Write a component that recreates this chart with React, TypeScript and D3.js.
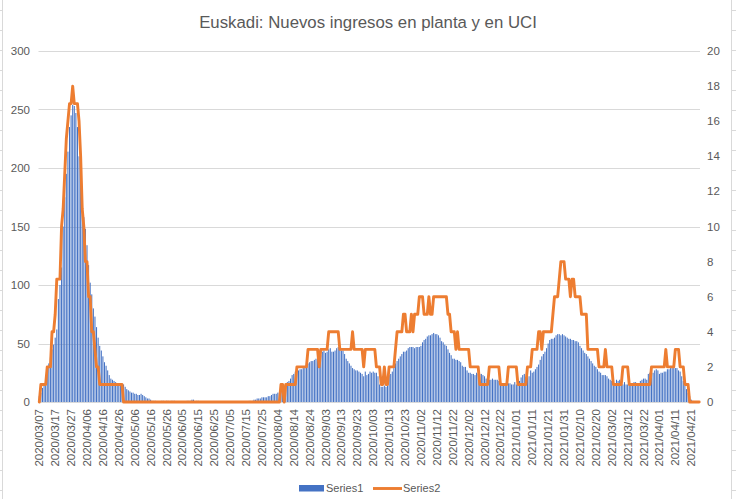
import React from "react";
import * as d3 from "d3";

const START_UTC = Date.UTC(2020, 2, 7);
const N_DAYS = 416;

const series1: number[] = [
  5, 8, 12, 14, 16, 25, 33, 38, 45, 49,
  55, 62, 88, 100, 115, 150, 175, 195, 214, 235,
  245, 254, 253, 247, 235, 210, 190, 170, 158, 148,
  134, 117, 102, 92, 80, 73, 64, 55, 48, 44,
  39, 34, 31, 27, 23, 20, 19, 18, 17, 16,
  16, 16, 15, 15, 13, 11, 10, 9, 8, 8,
  7, 7, 6, 6, 7, 6, 5, 4, 3, 3,
  2, 1, 1, 1, 0, 0, 0, 1, 1, 0,
  1, 1, 0, 1, 1, 1, 0, 0, 0, 0,
  0, 0, 0, 1, 1, 1, 2, 2, 0, 1,
  1, 0, 0, 0, 0, 0, 0, 0, 0, 0,
  0, 0, 0, 0, 0, 0, 0, 0, 0, 0,
  0, 0, 0, 0, 0, 0, 0, 0, 0, 0,
  0, 0, 1, 1, 1, 2, 2, 3, 3, 3,
  4, 4, 4, 4, 5, 5, 6, 7, 7, 7,
  8, 8, 9, 10, 13, 15, 17, 18, 20, 23,
  24, 26, 27, 27, 28, 28, 29, 29, 30, 33,
  34, 35, 35, 36, 37, 37, 30, 40, 43, 44,
  42, 43, 45, 46, 43, 43, 44, 46, 47, 45,
  44, 44, 41, 37, 35, 33, 31, 29, 28, 27,
  27, 26, 25, 24, 22, 26, 23, 24, 26, 25,
  26, 25, 25, 22, 15, 13, 13, 14, 13, 14,
  23, 24, 26, 29, 33, 35, 37, 39, 41, 43,
  43, 44, 46, 47, 47, 47, 46, 47, 47, 47,
  48, 51, 53, 54, 56, 57, 57, 58, 59, 58,
  58, 57, 55, 52, 51, 49, 48, 45, 42, 40,
  37, 37, 36, 36, 35, 34, 31, 30, 30, 27,
  25, 25, 24, 24, 23, 25, 24, 24, 24, 23,
  22, 20, 20, 19, 19, 20, 19, 19, 19, 18,
  19, 15, 14, 14, 16, 16, 16, 15, 15, 17,
  15, 16, 18, 21, 23, 24, 21, 21, 22, 27,
  25, 26, 28, 30, 32, 36, 39, 41, 43, 46,
  50, 53, 54, 54, 55, 57, 58, 58, 57, 58,
  57, 56, 55, 54, 54, 53, 53, 52, 52, 51,
  48, 46, 44, 42, 41, 39, 37, 35, 33, 31,
  30, 28, 26, 25, 23, 23, 23, 22, 20, 19,
  18, 17, 15, 19, 18, 19, 18, 15, 17, 15,
  15, 16, 15, 16, 17, 17, 16, 16, 18, 19,
  20, 20, 19, 24, 25, 25, 25, 27, 28, 27,
  24, 25, 25, 26, 26, 28, 28, 29, 29, 29,
  29, 29, 27, 26, 22, 18, 14, 11, 8, 5,
  2, 1, 0, 0, 0, 0,
];

const series2: number[] = [
  0, 1, 1, 1, 1, 2, 2, 2, 4, 4,
  5, 7, 7, 7, 10, 11, 13, 15, 16, 17,
  17, 18, 17, 17, 17, 16, 14, 11, 10, 8,
  8, 6, 6, 4, 4, 3, 2, 2, 1, 1,
  1, 1, 1, 1, 1, 1, 1, 1, 1, 1,
  1, 1, 1, 0, 0, 0, 0, 0, 0, 0,
  0, 0, 0, 0, 0, 0, 0, 0, 0, 0,
  0, 0, 0, 0, 0, 0, 0, 0, 0, 0,
  0, 0, 0, 0, 0, 0, 0, 0, 0, 0,
  0, 0, 0, 0, 0, 0, 0, 0, 0, 0,
  0, 0, 0, 0, 0, 0, 0, 0, 0, 0,
  0, 0, 0, 0, 0, 0, 0, 0, 0, 0,
  0, 0, 0, 0, 0, 0, 0, 0, 0, 0,
  0, 0, 0, 0, 0, 0, 0, 0, 0, 0,
  0, 0, 0, 0, 0, 0, 0, 0, 0, 0,
  0, 0, 1, 1, 0, 1, 1, 1, 1, 1,
  1, 1, 2, 2, 2, 2, 2, 2, 2, 3,
  3, 3, 3, 3, 3, 3, 2, 3, 3, 3,
  3, 3, 4, 4, 4, 4, 4, 4, 4, 3,
  3, 3, 3, 3, 3, 3, 3, 4, 3, 3,
  3, 3, 3, 3, 2, 3, 3, 3, 3, 3,
  3, 3, 2, 2, 2, 1, 1, 2, 1, 1,
  2, 2, 2, 2, 3, 4, 4, 4, 4, 5,
  5, 4, 4, 4, 5, 4, 5, 5, 5, 6,
  6, 6, 5, 5, 5, 6, 5, 5, 6, 6,
  6, 6, 6, 6, 6, 6, 6, 5, 5, 4,
  4, 4, 3, 4, 3, 3, 3, 3, 3, 3,
  3, 2, 2, 2, 2, 2, 2, 1, 1, 1,
  1, 1, 1, 2, 2, 2, 2, 2, 2, 2,
  1, 1, 1, 1, 1, 2, 2, 2, 2, 2,
  2, 1, 1, 1, 1, 1, 1, 2, 2, 2,
  3, 3, 3, 3, 4, 4, 3, 4, 4, 4,
  4, 4, 4, 5, 6, 6, 6, 7, 8, 8,
  8, 7, 7, 7, 6, 7, 7, 6, 6, 6,
  6, 5, 5, 5, 5, 3, 3, 3, 3, 3,
  3, 3, 2, 2, 2, 2, 3, 2, 2, 2,
  2, 1, 1, 1, 1, 1, 1, 2, 2, 2,
  2, 1, 1, 1, 1, 1, 1, 1, 1, 1,
  1, 1, 1, 1, 1, 2, 2, 2, 2, 2,
  2, 2, 2, 2, 3, 2, 2, 2, 2, 2,
  3, 3, 3, 2, 2, 2, 1, 1, 1, 0,
  0, 0, 0, 0, 0, 0,
];

const leftTicks = [0, 50, 100, 150, 200, 250, 300];
const rightTicks = [0, 2, 4, 6, 8, 10, 12, 14, 16, 18, 20];
const LABEL_EVERY = 10;

const TITLE = "Euskadi: Nuevos ingresos en planta y en UCI";
const SERIES_NAMES = ["Series1", "Series2"];

const pad = (n: number) => (n < 10 ? "0" + n : "" + n);
const categories: string[] = d3.range(N_DAYS).map((i) => {
  const d = new Date(START_UTC + i * 86400000);
  return `${d.getUTCFullYear()}/${pad(d.getUTCMonth() + 1)}/${pad(d.getUTCDate())}`;
});

const W = 736;
const H = 499;
const PL = 38.5;
const PR = 700;
const PT = 51;
const PB = 402;

const FONT = "'Liberation Sans', Arial, sans-serif";
const TXT = "#595959";
const GRID = "#d9d9d9";
const BLUE = "#4472C4";
const ORANGE = "#ED7D31";

export default function App() {
  const x = d3
    .scaleBand<number>()
    .domain(d3.range(N_DAYS))
    .range([PL, PR])
    .paddingInner(0.35)
    .paddingOuter(0.175);
  const bw = x.bandwidth();
  const cx = (i: number) => (x(i) as number) + bw / 2;
  const yL = d3.scaleLinear().domain([0, 300]).range([PB, PT]);
  const yR = d3.scaleLinear().domain([0, 20]).range([PB, PT]);

  const line = d3
    .line<number>()
    .x((_, i) => cx(i))
    .y((v) => yR(v));

  const labelIdx = categories.map((_, i) => i).filter((i) => i % LABEL_EVERY === 0);
  const sheetRows = d3.range(10, H, 20);

  return (
    <svg
      width={W}
      height={H}
      style={{ position: "absolute", left: 0, top: 0, background: "#fff" }}
      fontFamily={FONT}
    >
      <rect x={0} y={0} width={W} height={H} fill="#fff" />
      {sheetRows.map((r) => (
        <g key={r}>
          <line x1={0} x2={2} y1={r + 0.5} y2={r + 0.5} stroke={GRID} />
          <line x1={732} x2={W} y1={r + 0.5} y2={r + 0.5} stroke={GRID} />
        </g>
      ))}
      <line x1={2.5} x2={2.5} y1={0} y2={H} stroke={GRID} />
      <line x1={731.5} x2={731.5} y1={0} y2={H} stroke={GRID} />

      <text x={368} y={28} textAnchor="middle" fontSize={16.8} fill={TXT}>
        {TITLE}
      </text>

      {leftTicks.map((t) => (
        <line
          key={"g" + t}
          x1={PL}
          x2={PR}
          y1={Math.round(yL(t)) + 0.5}
          y2={Math.round(yL(t)) + 0.5}
          stroke={GRID}
          strokeWidth={1}
        />
      ))}

      {series1.map((v, i) => (
        <rect
          key={"b" + i}
          x={x(i)}
          y={yL(v)}
          width={bw}
          height={PB - yL(v)}
          fill={BLUE}
        />
      ))}

      <path
        d={line(series2) || ""}
        fill="none"
        stroke={ORANGE}
        strokeWidth={2.9}
        strokeLinejoin="round"
        strokeLinecap="round"
      />

      {leftTicks.map((t) => (
        <text
          key={"l" + t}
          x={30}
          y={yL(t)}
          dy="0.35em"
          textAnchor="end"
          fontSize={11.5}
          fill={TXT}
        >
          {t}
        </text>
      ))}
      {rightTicks.map((t) => (
        <text
          key={"r" + t}
          x={707}
          y={yR(t)}
          dy="0.35em"
          textAnchor="start"
          fontSize={11.5}
          fill={TXT}
        >
          {t}
        </text>
      ))}

      {labelIdx.map((i) => (
        <text
          key={"x" + i}
          transform={`translate(${cx(i)},${409}) rotate(-90)`}
          dy="0.35em"
          textAnchor="end"
          fontSize={11.5}
          fill={TXT}
        >
          {categories[i]}
        </text>
      ))}

      <rect x={299} y={485} width={25} height={6.5} fill={BLUE} />
      <text x={326} y={488.5} dy="0.35em" fontSize={11} fill={TXT}>
        {SERIES_NAMES[0]}
      </text>
      <line x1={373} x2={402} y1={488.5} y2={488.5} stroke={ORANGE} strokeWidth={2.9} />
      <text x={403} y={488.5} dy="0.35em" fontSize={11} fill={TXT}>
        {SERIES_NAMES[1]}
      </text>
    </svg>
  );
}
